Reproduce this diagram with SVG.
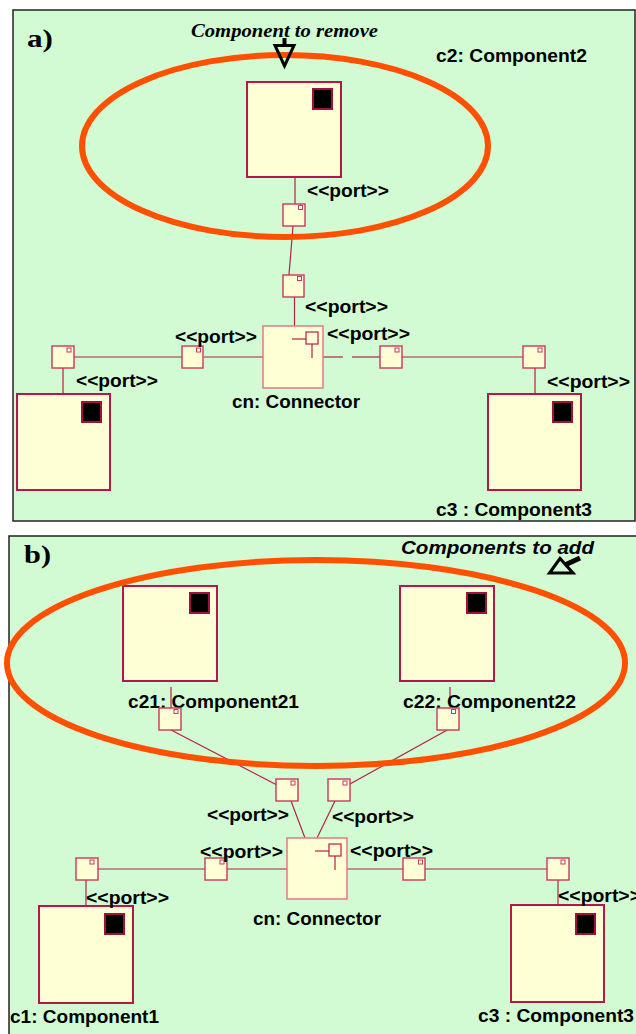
<svg xmlns="http://www.w3.org/2000/svg" width="636" height="1034" viewBox="0 0 636 1034">
<style>
.frame{fill:#d3fbd3;stroke:#222;stroke-width:1.5}
.comp{fill:#ffffd5;stroke:#b3184a;stroke-width:2}
.blk{fill:#000;stroke:#a0103c;stroke-width:2}
.port{fill:#ffffd5;stroke:#c8385a;stroke-width:1.4}
.pdot{fill:#fff;stroke:#c8385a;stroke-width:1}
.conn{fill:#ffffd5;stroke:#e07b8c;stroke-width:1.5}
.wire{stroke:#b3204a;stroke-width:1.2;fill:none}
.lbl{font-family:"Liberation Sans",Arial,sans-serif;font-weight:bold;font-size:18px;fill:#000}
.ell{fill:none;stroke:#ff5000;stroke-width:6}
.tag{font-family:"Liberation Serif","Times New Roman",serif;font-weight:bold;font-size:26px;fill:#000}
.arr{fill:none;stroke:#000;stroke-width:3}
</style>

<!-- Panel a -->
<g id="panel-a">
<rect class="frame" x="13" y="10" width="622" height="511"/>
<text class="tag" x="27" y="47" textLength="26" lengthAdjust="spacingAndGlyphs">a)</text>
<text x="191" y="37" font-family="'Liberation Serif','Times New Roman',serif" font-weight="bold" font-style="italic" font-size="18" textLength="187" lengthAdjust="spacingAndGlyphs">Component to remove</text>
</g>

<g id="connectors-a">
<line class="wire" x1="295" y1="177" x2="295" y2="204"/>
<line class="wire" x1="293" y1="226" x2="289" y2="275"/>
<line class="wire" x1="294.5" y1="297" x2="294.5" y2="326"/>
<line class="wire" x1="263" y1="357" x2="204" y2="357"/>
<line class="wire" x1="182" y1="357" x2="74" y2="357"/>
<line class="wire" x1="63" y1="368" x2="63" y2="394"/>
<line class="wire" x1="323" y1="357" x2="343" y2="357"/>
<line class="wire" x1="352" y1="357" x2="380" y2="357"/>
<line class="wire" x1="402" y1="357" x2="523" y2="357"/>
<line class="wire" x1="535" y1="368" x2="535" y2="394"/>
</g>

<g id="c2">
<rect class="comp" x="247" y="82" width="94" height="95"/>
<rect class="blk" x="313" y="89" width="19" height="20"/>
<text class="lbl" x="436" y="62" textLength="151" lengthAdjust="spacingAndGlyphs">c2: Component2</text>
</g>
<g id="c1a">
<rect class="comp" x="17" y="394" width="93" height="96"/>
<rect class="blk" x="82" y="402" width="19" height="20"/>
</g>
<g id="c3a">
<rect class="comp" x="488" y="394" width="93" height="96"/>
<rect class="blk" x="553" y="402" width="19" height="20"/>
<text class="lbl" x="436" y="516" textLength="156" lengthAdjust="spacingAndGlyphs">c3 : Component3</text>
</g>
<g id="cn-a">
<rect class="conn" x="263" y="326" width="60" height="62"/>
<rect class="port" x="306" y="332" width="12" height="12"/>
<line class="wire" x1="292" y1="339" x2="306" y2="339"/>
<line class="wire" x1="312" y1="344" x2="312" y2="358"/>
<text class="lbl" x="232" y="408" textLength="128" lengthAdjust="spacingAndGlyphs">cn: Connector</text>
</g>
<g id="ports-a">
<rect class="port" x="283" y="204" width="22" height="22"/><rect class="pdot" x="298.5" y="205.5" width="4" height="4"/>
<rect class="port" x="283" y="275" width="21" height="22"/><rect class="pdot" x="297.5" y="276.5" width="4" height="4"/>
<rect class="port" x="182" y="346" width="21" height="22"/><rect class="pdot" x="196.5" y="348" width="4" height="4"/>
<rect class="port" x="52" y="346" width="22" height="22"/><rect class="pdot" x="67" y="348" width="4" height="4"/>
<rect class="port" x="380" y="346" width="22" height="22"/><rect class="pdot" x="395" y="348" width="4" height="4"/>
<rect class="port" x="523" y="346" width="22" height="22"/><rect class="pdot" x="538" y="348" width="4" height="4"/>
</g>
<g id="labels-a">
<text class="lbl" x="307" y="197" textLength="82" lengthAdjust="spacingAndGlyphs">&lt;&lt;port&gt;&gt;</text>
<text class="lbl" x="305" y="313" textLength="83" lengthAdjust="spacingAndGlyphs">&lt;&lt;port&gt;&gt;</text>
<text class="lbl" x="327" y="340" textLength="83" lengthAdjust="spacingAndGlyphs">&lt;&lt;port&gt;&gt;</text>
<text class="lbl" x="175" y="343" textLength="82" lengthAdjust="spacingAndGlyphs">&lt;&lt;port&gt;&gt;</text>
<text class="lbl" x="76" y="387" textLength="82" lengthAdjust="spacingAndGlyphs">&lt;&lt;port&gt;&gt;</text>
<text class="lbl" x="547" y="388" textLength="83" lengthAdjust="spacingAndGlyphs">&lt;&lt;port&gt;&gt;</text>
</g>
<g id="highlight-a">
<ellipse class="ell" cx="285" cy="146" rx="203" ry="91"/>
<rect x="282.5" y="38" width="4" height="7" fill="#000"/>
<polygon class="arr" points="275,45.5 294,45.5 284.5,66"/>
</g>

<!-- Panel b -->
<g id="panel-b">
<rect class="frame" x="9" y="536" width="640" height="510"/>
<text class="tag" x="24" y="563" textLength="27" lengthAdjust="spacingAndGlyphs">b)</text>
<text x="401" y="554" font-family="'Liberation Sans',Arial,sans-serif" font-weight="bold" font-style="italic" font-size="18" textLength="193" lengthAdjust="spacingAndGlyphs">Components to add</text>
</g>

<g id="connectors-b">
<line class="wire" x1="171" y1="687" x2="171" y2="708"/>
<line class="wire" x1="450" y1="687" x2="450" y2="708"/>
<line class="wire" x1="171" y1="730" x2="277" y2="785"/>
<line class="wire" x1="449" y1="729" x2="350" y2="784"/>
<line class="wire" x1="291" y1="801" x2="305" y2="838"/>
<line class="wire" x1="335" y1="801" x2="317" y2="838"/>
<line class="wire" x1="98" y1="869" x2="205" y2="869"/>
<line class="wire" x1="227" y1="869" x2="287" y2="869"/>
<line class="wire" x1="347" y1="869" x2="403" y2="869"/>
<line class="wire" x1="425" y1="869" x2="547" y2="869"/>
<line class="wire" x1="86" y1="880" x2="86" y2="906"/>
<line class="wire" x1="558" y1="880" x2="558" y2="905"/>
</g>

<g id="c21">
<rect class="comp" x="123" y="586" width="94" height="95"/>
<rect class="blk" x="190" y="593" width="19" height="20"/>
<text class="lbl" x="128" y="708" textLength="171" lengthAdjust="spacingAndGlyphs">c21: Component21</text>
</g>
<g id="c22">
<rect class="comp" x="400" y="586" width="94" height="95"/>
<rect class="blk" x="467" y="593" width="19" height="20"/>
<text class="lbl" x="403" y="708" textLength="173" lengthAdjust="spacingAndGlyphs">c22: Component22</text>
</g>
<g id="c1b">
<rect class="comp" x="39" y="906" width="94" height="97"/>
<rect class="blk" x="105" y="914" width="19" height="20"/>
<text class="lbl" x="10" y="1023" textLength="149" lengthAdjust="spacingAndGlyphs">c1: Component1</text>
</g>
<g id="c3b">
<rect class="comp" x="511" y="905" width="93" height="97"/>
<rect class="blk" x="576" y="914" width="19" height="20"/>
<text class="lbl" x="478" y="1022" textLength="156" lengthAdjust="spacingAndGlyphs">c3 : Component3</text>
</g>
<g id="cn-b">
<rect class="conn" x="287" y="838" width="60" height="61"/>
<rect class="port" x="329" y="844" width="12" height="12"/>
<line class="wire" x1="315" y1="851" x2="329" y2="851"/>
<line class="wire" x1="335" y1="856" x2="335" y2="870"/>
<text class="lbl" x="253" y="925" textLength="128" lengthAdjust="spacingAndGlyphs">cn: Connector</text>
</g>
<g id="ports-b">
<rect class="port" x="159" y="708" width="22" height="22"/><rect class="pdot" x="174" y="709.5" width="4" height="4"/>
<rect class="port" x="437" y="708" width="22" height="22"/><rect class="pdot" x="451.5" y="709.5" width="4" height="4"/>
<rect class="port" x="276" y="779" width="22" height="22"/><rect class="pdot" x="291" y="781" width="4" height="4"/>
<rect class="port" x="328" y="779" width="22" height="22"/><rect class="pdot" x="343" y="781" width="4" height="4"/>
<rect class="port" x="205" y="858" width="22" height="22"/><rect class="pdot" x="220" y="860" width="4" height="4"/>
<rect class="port" x="76" y="858" width="22" height="22"/><rect class="pdot" x="90" y="860" width="4" height="4"/>
<rect class="port" x="403" y="858" width="22" height="22"/><rect class="pdot" x="418.5" y="860" width="4" height="4"/>
<rect class="port" x="547" y="858" width="22" height="22"/><rect class="pdot" x="561" y="860" width="4" height="4"/>
</g>
<g id="labels-b">
<text class="lbl" x="207" y="821" textLength="82" lengthAdjust="spacingAndGlyphs">&lt;&lt;port&gt;&gt;</text>
<text class="lbl" x="332" y="823" textLength="82" lengthAdjust="spacingAndGlyphs">&lt;&lt;port&gt;&gt;</text>
<text class="lbl" x="200" y="858" textLength="83" lengthAdjust="spacingAndGlyphs">&lt;&lt;port&gt;&gt;</text>
<text class="lbl" x="350" y="857" textLength="83" lengthAdjust="spacingAndGlyphs">&lt;&lt;port&gt;&gt;</text>
<text class="lbl" x="86" y="904" textLength="83" lengthAdjust="spacingAndGlyphs">&lt;&lt;port&gt;&gt;</text>
<text class="lbl" x="558" y="902" textLength="83" lengthAdjust="spacingAndGlyphs">&lt;&lt;port&gt;&gt;</text>
</g>
<g id="highlight-b">
<ellipse class="ell" cx="316" cy="663" rx="309" ry="103"/>
<polygon class="arr" points="549.5,573 573,573 560,558.5"/>
<line x1="565" y1="565" x2="580" y2="558" stroke="#000" stroke-width="5"/>
</g>
</svg>
